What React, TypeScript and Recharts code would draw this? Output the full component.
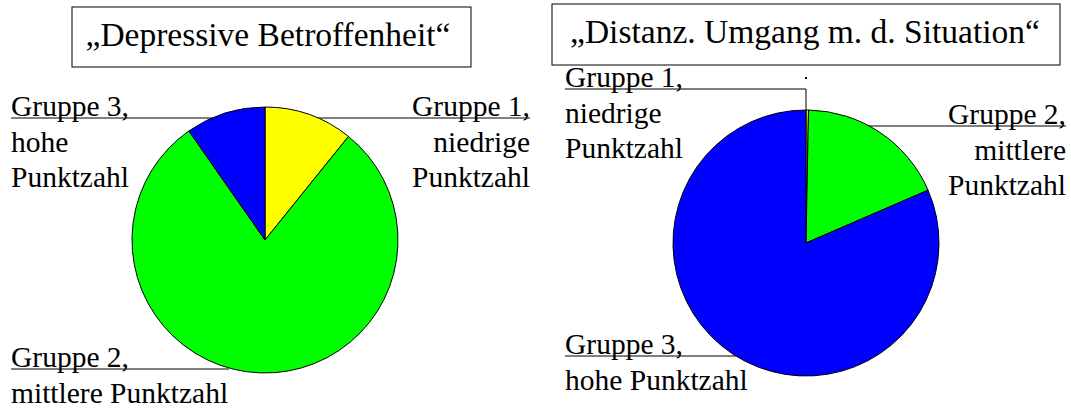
import { PieChart, Pie, Cell } from 'recharts';

const CATEGORIES = ['Gruppe 1', 'Gruppe 2', 'Gruppe 3'];
const TITLES = ['„Depressive Betroffenheit“', '„Distanz. Umgang m. d. Situation“'];
// share of each group in percent
const DEPRESSIVE = [10.8, 79.5, 9.7];
const DISTANZ = [0.3, 18.2, 81.5];
const COLORS = ['#ffff00', '#00ff00', '#0000ff'];

const FONT = 'Liberation Serif, Tinos, serif';
const W = 1071;
const H = 409;
const R = 133;

const toRows = (values: number[]) => CATEGORIES.map((name, i) => ({ name, value: values[i] }));

// label layout: text lines, anchor, baseline, underline (leader) span
const LABELS = [
  { lines: ['Gruppe 3,', 'hohe', 'Punktzahl'], x: 11, y: 116, anchor: 'start', lead: [11, 300, 118] },
  { lines: ['Gruppe 1,', 'niedrige', 'Punktzahl'], x: 530, y: 116, anchor: 'end', lead: [250, 530, 118] },
  { lines: ['Gruppe 2,', 'mittlere Punktzahl'], x: 11, y: 367, anchor: 'start', lead: [11, 229, 369] },
  { lines: ['Gruppe 1,', 'niedrige', 'Punktzahl'], x: 565, y: 87, anchor: 'start', lead: [565, 806, 89] },
  { lines: ['Gruppe 2,', 'mittlere', 'Punktzahl'], x: 1066, y: 124, anchor: 'end', lead: [860, 1066, 126] },
  { lines: ['Gruppe 3,', 'hohe Punktzahl'], x: 565, y: 354, anchor: 'start', lead: [565, 750, 356] },
];

export default function App() {
  return (
    <div style={{ position: 'absolute', left: 0, top: 0, width: W, height: H, background: '#fff' }}>
      {/* leader lines sit behind the pies */}
      <svg width={W} height={H} style={{ position: 'absolute', left: 0, top: 0 }}>
        {LABELS.map((l, i) => (
          <line key={i} x1={l.lead[0]} x2={l.lead[1]} y1={l.lead[2]} y2={l.lead[2]} stroke="#000" strokeWidth={1} />
        ))}
        <line x1={806} x2={806} y1={89} y2={112} stroke="#000" strokeWidth={1} />
        <rect x={805} y={77} width={2} height={2} fill="#000" />
      </svg>

      <div style={{ position: 'absolute', left: 0, top: 0 }}>
        <PieChart width={W} height={H} margin={{ top: 0, right: 0, bottom: 0, left: 0 }}>
          <Pie
            data={toRows(DEPRESSIVE)}
            dataKey="value"
            cx={265}
            cy={240}
            outerRadius={R}
            startAngle={90}
            endAngle={-270}
            stroke="#000"
            strokeWidth={1}
            isAnimationActive={false}
          >
            {COLORS.map((c) => (
              <Cell key={c} fill={c} />
            ))}
          </Pie>
          <Pie
            data={toRows(DISTANZ)}
            dataKey="value"
            cx={806}
            cy={243}
            outerRadius={R}
            startAngle={90}
            endAngle={-270}
            stroke="#000"
            strokeWidth={1}
            isAnimationActive={false}
          >
            {COLORS.map((c) => (
              <Cell key={c} fill={c} />
            ))}
          </Pie>
        </PieChart>
      </div>

      <svg width={W} height={H} style={{ position: 'absolute', left: 0, top: 0, pointerEvents: 'none' }}>
        <rect x={72} y={7} width={399} height={60} fill="#fff" stroke="#000" strokeWidth={1} />
        <text x={268} y={46} textAnchor="middle" style={{ fontFamily: FONT, fontSize: 33.5 }} fill="#000">
          {TITLES[0]}
        </text>
        <rect x={552} y={4} width={508} height={61} fill="#fff" stroke="#000" strokeWidth={1} />
        <text x={805} y={43} textAnchor="middle" style={{ fontFamily: FONT, fontSize: 33.5 }} fill="#000">
          {TITLES[1]}
        </text>
        {LABELS.map((l, i) => (
          <text
            key={i}
            textAnchor={l.anchor as 'start' | 'end'}
            style={{ fontFamily: FONT, fontSize: 29.5 }}
            fill="#000"
          >
            {l.lines.map((t, j) => (
              <tspan key={j} x={l.x} y={l.y + j * 35.5}>
                {t}
              </tspan>
            ))}
          </text>
        ))}
      </svg>
    </div>
  );
}
